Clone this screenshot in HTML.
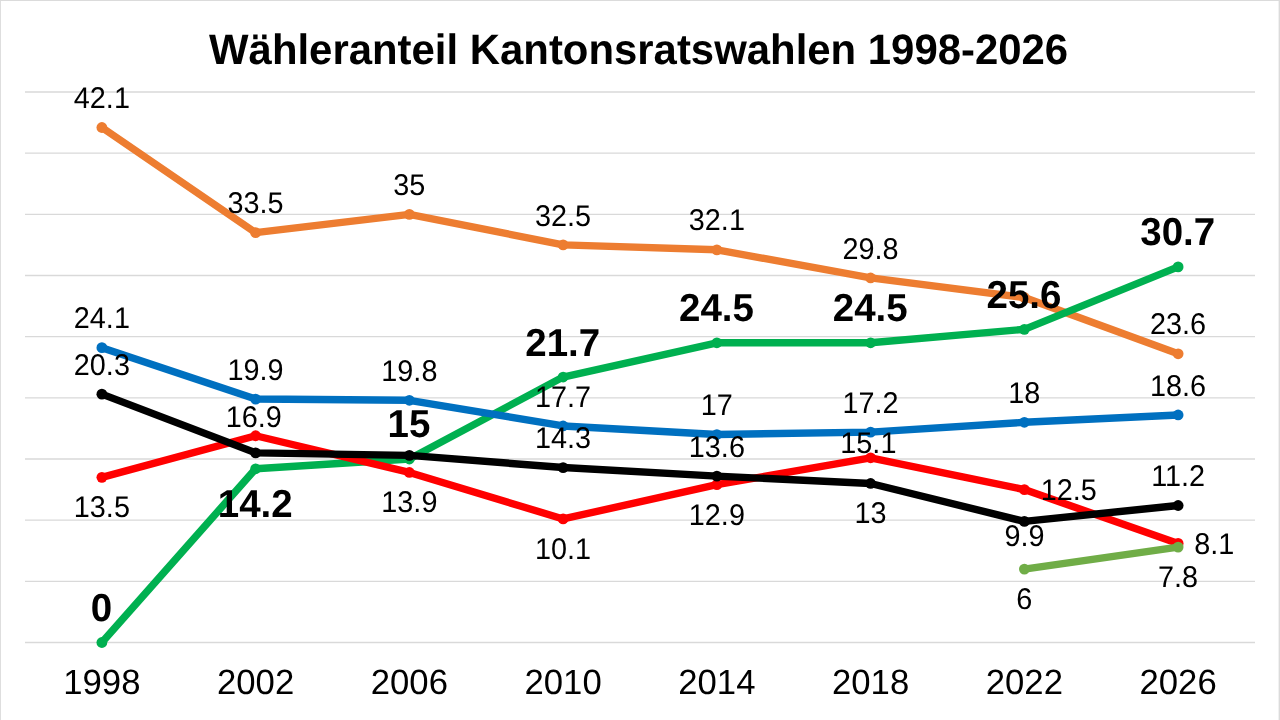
<!DOCTYPE html>
<html lang="de"><head><meta charset="utf-8"><title>Wähleranteil Kantonsratswahlen 1998-2026</title>
<style>html,body{margin:0;padding:0;background:#fff;}body{width:1280px;height:720px;overflow:hidden;}svg{display:block;font-family:"Liberation Sans",sans-serif;text-rendering:geometricPrecision;}.t{font-weight:bold;font-size:41.9px;text-anchor:middle;fill:#000}.l{font-size:28.8px;text-anchor:middle;fill:#000}.b{font-size:38.5px;font-weight:bold;text-anchor:middle;fill:#000}.x{font-size:34.7px;text-anchor:middle;fill:#000}.g{stroke:#D9D9D9;stroke-width:1.3;fill:none}.s{fill:none;stroke-width:7.4;stroke-linecap:round;stroke-linejoin:round}</style></head><body>
<svg width="1280" height="720" viewBox="0 0 1280 720">
<rect x="0" y="0" width="1280" height="720" fill="#fff"/>
<line class="g" x1="25" y1="642.50" x2="1255" y2="642.50"/>
<line class="g" x1="25" y1="581.33" x2="1255" y2="581.33"/>
<line class="g" x1="25" y1="520.17" x2="1255" y2="520.17"/>
<line class="g" x1="25" y1="459.00" x2="1255" y2="459.00"/>
<line class="g" x1="25" y1="397.83" x2="1255" y2="397.83"/>
<line class="g" x1="25" y1="336.67" x2="1255" y2="336.67"/>
<line class="g" x1="25" y1="275.50" x2="1255" y2="275.50"/>
<line class="g" x1="25" y1="214.33" x2="1255" y2="214.33"/>
<line class="g" x1="25" y1="153.17" x2="1255" y2="153.17"/>
<line class="g" x1="25" y1="92.00" x2="1255" y2="92.00"/>
<polyline class="s" stroke="#ED7D31" points="101.88,127.48 255.62,232.68 409.38,214.33 563.12,244.92 716.88,249.81 870.62,277.95 1024.38,297.52 1178.12,353.79"/>
<circle cx="101.88" cy="127.48" r="5.4" fill="#ED7D31"/>
<circle cx="255.62" cy="232.68" r="5.4" fill="#ED7D31"/>
<circle cx="409.38" cy="214.33" r="5.4" fill="#ED7D31"/>
<circle cx="563.12" cy="244.92" r="5.4" fill="#ED7D31"/>
<circle cx="716.88" cy="249.81" r="5.4" fill="#ED7D31"/>
<circle cx="870.62" cy="277.95" r="5.4" fill="#ED7D31"/>
<circle cx="1024.38" cy="297.52" r="5.4" fill="#ED7D31"/>
<circle cx="1178.12" cy="353.79" r="5.4" fill="#ED7D31"/>
<polyline class="s" stroke="#00B050" points="101.88,642.50 255.62,468.79 409.38,459.00 563.12,377.04 716.88,342.78 870.62,342.78 1024.38,329.33 1178.12,266.94"/>
<circle cx="101.88" cy="642.50" r="5.4" fill="#00B050"/>
<circle cx="255.62" cy="468.79" r="5.4" fill="#00B050"/>
<circle cx="409.38" cy="459.00" r="5.4" fill="#00B050"/>
<circle cx="563.12" cy="377.04" r="5.4" fill="#00B050"/>
<circle cx="716.88" cy="342.78" r="5.4" fill="#00B050"/>
<circle cx="870.62" cy="342.78" r="5.4" fill="#00B050"/>
<circle cx="1024.38" cy="329.33" r="5.4" fill="#00B050"/>
<circle cx="1178.12" cy="266.94" r="5.4" fill="#00B050"/>
<polyline class="s" stroke="#0070C0" points="101.88,347.68 255.62,399.06 409.38,400.28 563.12,425.97 716.88,434.53 870.62,432.09 1024.38,422.30 1178.12,414.96"/>
<circle cx="101.88" cy="347.68" r="5.4" fill="#0070C0"/>
<circle cx="255.62" cy="399.06" r="5.4" fill="#0070C0"/>
<circle cx="409.38" cy="400.28" r="5.4" fill="#0070C0"/>
<circle cx="563.12" cy="425.97" r="5.4" fill="#0070C0"/>
<circle cx="716.88" cy="434.53" r="5.4" fill="#0070C0"/>
<circle cx="870.62" cy="432.09" r="5.4" fill="#0070C0"/>
<circle cx="1024.38" cy="422.30" r="5.4" fill="#0070C0"/>
<circle cx="1178.12" cy="414.96" r="5.4" fill="#0070C0"/>
<polyline class="s" stroke="#FF0000" points="101.88,477.35 255.62,435.76 409.38,472.46 563.12,518.94 716.88,484.69 870.62,457.78 1024.38,489.58 1178.12,543.41"/>
<circle cx="101.88" cy="477.35" r="5.4" fill="#FF0000"/>
<circle cx="255.62" cy="435.76" r="5.4" fill="#FF0000"/>
<circle cx="409.38" cy="472.46" r="5.4" fill="#FF0000"/>
<circle cx="563.12" cy="518.94" r="5.4" fill="#FF0000"/>
<circle cx="716.88" cy="484.69" r="5.4" fill="#FF0000"/>
<circle cx="870.62" cy="457.78" r="5.4" fill="#FF0000"/>
<circle cx="1024.38" cy="489.58" r="5.4" fill="#FF0000"/>
<circle cx="1178.12" cy="543.41" r="5.4" fill="#FF0000"/>
<polyline class="s" stroke="#000000" points="101.88,394.16 255.62,452.88 409.38,455.33 563.12,467.56 716.88,476.13 870.62,483.47 1024.38,521.39 1178.12,505.49"/>
<circle cx="101.88" cy="394.16" r="5.4" fill="#000000"/>
<circle cx="255.62" cy="452.88" r="5.4" fill="#000000"/>
<circle cx="409.38" cy="455.33" r="5.4" fill="#000000"/>
<circle cx="563.12" cy="467.56" r="5.4" fill="#000000"/>
<circle cx="716.88" cy="476.13" r="5.4" fill="#000000"/>
<circle cx="870.62" cy="483.47" r="5.4" fill="#000000"/>
<circle cx="1024.38" cy="521.39" r="5.4" fill="#000000"/>
<circle cx="1178.12" cy="505.49" r="5.4" fill="#000000"/>
<polyline class="s" stroke="#70AD47" points="1024.38,569.10 1178.12,547.08"/>
<circle cx="1024.38" cy="569.10" r="5.4" fill="#70AD47"/>
<circle cx="1178.12" cy="547.08" r="5.4" fill="#70AD47"/>
<rect x="0" y="0" width="1280" height="1" fill="#DBDBDB"/><rect x="0" y="0" width="0.9" height="720" fill="#DBDBDB"/><rect x="1278.6" y="0" width="1.4" height="720" fill="#DBDBDB"/>
<g transform="scale(1,1.015)">
<text class="t" x="638.60" y="63.25">Wähleranteil Kantonsratswahlen 1998-2026</text>
</g>
<g transform="scale(1,1.01)">
<text class="x" x="101.88" y="687.62">1998</text>
<text class="x" x="255.62" y="687.62">2002</text>
<text class="x" x="409.38" y="687.62">2006</text>
<text class="x" x="563.12" y="687.62">2010</text>
<text class="x" x="716.88" y="687.62">2014</text>
<text class="x" x="870.62" y="687.62">2018</text>
<text class="x" x="1024.38" y="687.62">2022</text>
<text class="x" x="1178.12" y="687.62">2026</text>
</g>
<g transform="scale(1,1.04)">
<text class="l" x="101.88" y="104.02">42.1</text>
<text class="l" x="255.62" y="205.17">33.5</text>
<text class="l" x="409.38" y="187.53">35</text>
<text class="l" x="563.12" y="216.94">32.5</text>
<text class="l" x="716.88" y="221.64">32.1</text>
<text class="l" x="870.62" y="248.70">29.8</text>
<text class="l" x="1178.12" y="321.62">23.6</text>
<text class="l" x="101.88" y="315.75">24.1</text>
<text class="l" x="255.62" y="365.15">19.9</text>
<text class="l" x="409.38" y="366.33">19.8</text>
<text class="l" x="563.12" y="391.03">17.7</text>
<text class="l" x="716.88" y="399.26">17</text>
<text class="l" x="870.62" y="396.91">17.2</text>
<text class="l" x="1024.38" y="387.50">18</text>
<text class="l" x="1178.12" y="380.44">18.6</text>
<text class="l" x="101.88" y="360.44">20.3</text>
<text class="l" x="563.12" y="431.02">14.3</text>
<text class="l" x="716.88" y="439.26">13.6</text>
<text class="l" x="870.62" y="503.24">13</text>
<text class="l" x="1024.42" y="525.48">9.9</text>
<text class="l" x="1178.12" y="467.49">11.2</text>
<text class="l" x="101.88" y="497.36">13.5</text>
<text class="l" x="253.85" y="410.34">16.9</text>
<text class="l" x="409.38" y="492.65">13.9</text>
<text class="l" x="563.12" y="537.35">10.1</text>
<text class="l" x="716.88" y="504.41">12.9</text>
<text class="l" x="868.38" y="435.38">15.1</text>
<text class="l" x="1068.67" y="480.96">12.5</text>
<text class="l" x="1214.28" y="532.45">8.1</text>
<text class="l" x="1024.38" y="585.58">6</text>
<text class="l" x="1178.12" y="564.40">7.8</text>
</g>
<g transform="scale(1,1.01)">
<text class="b" x="101.48" y="614.85">0</text>
<text class="b" x="255.22" y="512.37">14.2</text>
<text class="b" x="408.98" y="433.17">15</text>
<text class="b" x="562.72" y="352.02">21.7</text>
<text class="b" x="716.48" y="318.10">24.5</text>
<text class="b" x="870.22" y="318.10">24.5</text>
<text class="b" x="1023.98" y="304.78">25.6</text>
<text class="b" x="1177.72" y="243.01">30.7</text>
</g>
</svg></body></html>
